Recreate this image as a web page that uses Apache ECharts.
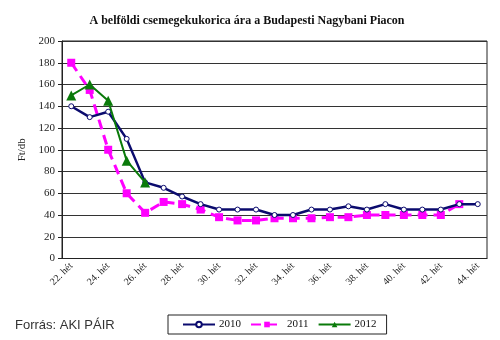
<!DOCTYPE html>
<html><head><meta charset="utf-8">
<script src="https://cdn.jsdelivr.net/npm/echarts@6/dist/echarts.min.js"></script>
<style>html,body{margin:0;padding:0;background:#fff}#c{width:500px;height:340px}</style>
</head><body><div id="c"></div>
<script>
const weeks = ['22. hét','23. hét','24. hét','25. hét','26. hét','27. hét','28. hét','29. hét','30. hét','31. hét','32. hét','33. hét','34. hét','35. hét','36. hét','37. hét','38. hét','39. hét','40. hét','41. hét','42. hét','43. hét','44. hét'];
const s2010 = [140,130,135,110,70,65,57,50,45,45,45,40,40,45,45,48,45,50,45,45,45,50,50];
const s2011 = [180,155,100,60,42,52,50,45,38,35,35,37,37,37,38,38,40,40,40,40,40,50,null];
const s2012 = [150,160,145,90,70,null,null,null,null,null,null,null,null,null,null,null,null,null,null,null,null,null,null];
const yTicks = [0,20,40,60,80,100,120,140,160,180,200];

const serif = '"Liberation Serif","Times New Roman",serif';
const chart = echarts.init(document.getElementById('c'), null, {renderer:'canvas'});
chart.setOption({
  animation:false,
  backgroundColor:'#fff',
  title:{text:'A belföldi csemegekukorica ára a Budapesti Nagybani Piacon', left:242, textAlign:'center', top:10,
    textStyle:{fontFamily:serif, fontSize:12, fontWeight:'bold', color:'#111'}},
  grid:{left:62, right:13, top:41, bottom:81.5, show:true, borderColor:'#222', borderWidth:1, containLabel:false},
  legend:{top:315, left:168, orient:'horizontal', itemWidth:32, itemHeight:7, itemGap:9,
    borderColor:'#222', borderWidth:1, padding:[4,10,4,14], borderRadius:0,
    textStyle:{fontFamily:serif, fontSize:11, color:'#111', padding:[0,0,0,-1]},
    data:['2010','2011','2012']},
  graphic:[{type:'text', left:15, top:319, style:{text:'Forrás: AKI PÁIR', font:'13px "Liberation Sans", Arial, sans-serif', fill:'#333'}}],
  xAxis:{type:'category', data:weeks, boundaryGap:true,
    axisLine:{lineStyle:{color:'#222'}},
    axisTick:{interval:0, length:4, lineStyle:{color:'#222'}},
    axisLabel:{interval:1, rotate:45, margin:6, fontFamily:serif, fontSize:10, color:'#222'},
    splitLine:{show:false}},
  yAxis:{type:'value', min:0, max:200, interval:20,
    name:'Ft/db', nameLocation:'middle', nameGap:33, nameRotate:90,
    nameTextStyle:{fontFamily:serif, fontSize:11, color:'#222'},
    axisLine:{show:true, lineStyle:{color:'#222'}},
    axisTick:{show:true, length:4, lineStyle:{color:'#222'}},
    axisLabel:{margin:7, fontFamily:serif, fontSize:11, color:'#222',
      formatter:v=>yTicks.includes(v)?String(v):''},
    splitLine:{lineStyle:{color:'#333', width:1}}},
  series:[
    {name:'2010', type:'line', data:s2010, color:'#0b0b6e', symbol:'circle', symbolSize:5,
      itemStyle:{color:'#fff', borderColor:'#0b0b6e', borderWidth:1}, lineStyle:{color:'#0b0b6e', width:2.5}, z:3},
    {name:'2011', type:'line', data:s2011, color:'#ff00ff', symbol:'rect', symbolSize:8,
      itemStyle:{color:'#ff00ff'}, lineStyle:{color:'#ff00ff', width:3, type:[10,6]}, z:2},
    {name:'2012', type:'line', data:s2012, color:'#0a7a0a', symbol:'triangle', symbolSize:10,
      itemStyle:{color:'#0a7a0a'}, lineStyle:{color:'#0a7a0a', width:2}, z:4}
  ]
});
</script></body></html>
